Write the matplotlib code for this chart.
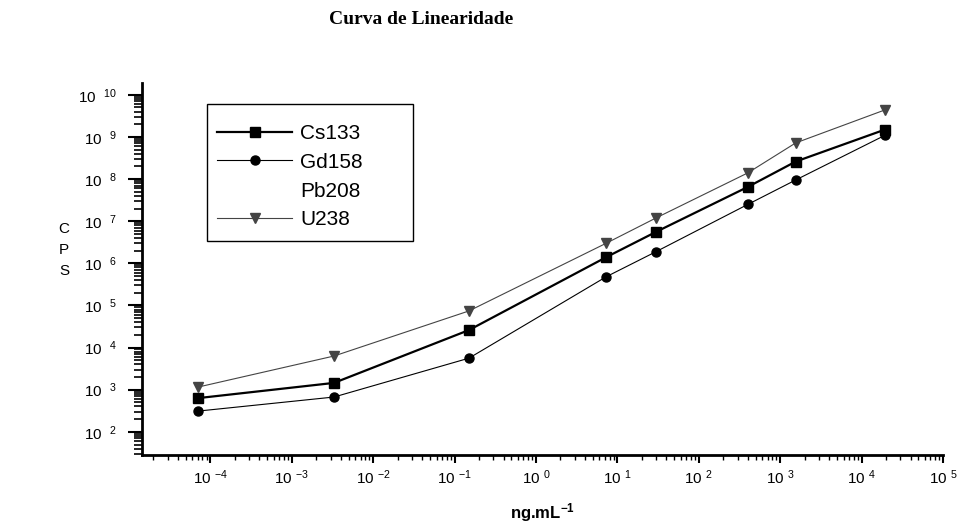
import numpy as np
import matplotlib.pyplot as plt
from matplotlib.patches import Rectangle
from matplotlib.ticker import FixedLocator, LogLocator, NullFormatter

# concentration (ng/mL) and counts per second for each isotope
conc = [7e-5, 3.3e-3, 0.15, 7.3, 30, 400, 1550, 19500]
cs133 = [630, 1450, 26000, 1.4e6, 5.6e6, 6.5e7, 2.6e8, 1.5e9]
gd158 = [310, 670, 5600, 4.8e5, 1.9e6, 2.5e7, 9.5e7, 1.1e9]
pb208 = [450, 700, 30000, 1.6e6, 6.0e6, 7.0e7, 2.8e8, 1.3e9]
u238 = [1150, 6300, 74000, 3.0e6, 1.2e7, 1.4e8, 7.2e8, 4.4e9]

x_exps = list(range(-4, 6))
y_exps = list(range(2, 11))

plt.rcParams['font.family'] = ['Liberation Sans', 'DejaVu Sans']
plt.rcParams['mathtext.default'] = 'regular'

W, H = 957, 523
AX_L, AX_R, AX_T, AX_B = 142, 943, 83, 455


def main() -> None:
	fig = plt.figure(figsize=(W / 100, H / 100), dpi=100)
	ax = fig.add_axes([AX_L / W, (H - AX_B) / H, (AX_R - AX_L) / W, (AX_B - AX_T) / H])

	# Pb208 is printed white in the original, so it only shows in the legend text
	ax.plot(conc, pb208, color='white', lw=1.0, marker='^', ms=6,
		label='Pb208', zorder=1)
	ax.plot(conc, cs133, color='black', lw=1.6, marker='s', ms=6.5, label='Cs133', zorder=3)
	ax.plot(conc, gd158, color='black', lw=0.8, marker='o', ms=6.5, label='Gd158', zorder=3)
	ax.plot(conc, u238, color='#444444', lw=0.8, marker='v', ms=7.5, label='U238', zorder=3)

	ax.set_xscale('log')
	ax.set_yscale('log')
	ax.set_xlim(10 ** -4.84, 1e5)
	ax.set_ylim(10 ** 1.45, 10 ** 10.28)

	ax.xaxis.set_major_locator(FixedLocator([10.0 ** e for e in x_exps]))
	ax.set_xticklabels([f"10 $^{{{e}}}$" for e in x_exps])
	ax.xaxis.set_minor_locator(LogLocator(base=10, subs=np.arange(2, 10), numticks=20))
	ax.xaxis.set_minor_formatter(NullFormatter())

	ax.yaxis.set_major_locator(FixedLocator([10.0 ** e for e in y_exps]))
	ax.set_yticklabels([f"10  $^{{{e}}}$" for e in y_exps])
	ax.yaxis.set_minor_locator(LogLocator(base=10, subs=np.arange(2, 10), numticks=20))
	ax.yaxis.set_minor_formatter(NullFormatter())

	ax.spines['top'].set_visible(False)
	ax.spines['right'].set_visible(False)
	ax.spines['left'].set_linewidth(2.0)
	ax.spines['bottom'].set_linewidth(2.0)

	ax.tick_params(axis='y', which='major', direction='out', length=10, width=1.5,
		labelsize=11, pad=8)
	ax.tick_params(axis='y', which='minor', direction='out', length=6, width=1.2)
	ax.tick_params(axis='x', which='major', direction='out', length=6, width=1.5,
		labelsize=11, pad=4)
	ax.tick_params(axis='x', which='minor', direction='out', length=3.5, width=1.0)

	handles, labels = ax.get_legend_handles_labels()
	order = [labels.index(n) for n in ['Cs133', 'Gd158', 'Pb208', 'U238']]
	ax.legend([handles[i] for i in order], [labels[i] for i in order],
		loc='upper left',
		bbox_to_anchor=((217 - AX_L) / (AX_R - AX_L), 1 - (124 - AX_T) / (AX_B - AX_T)),
		fontsize=15, frameon=False, handlelength=3.6,
		labelspacing=0.47, borderpad=0.0, borderaxespad=0.0, handletextpad=0.4)
	# frame drawn by hand: the original box leaves a wide margin right of the names
	ax.add_patch(Rectangle((207 / W, 1 - 241 / H), 206 / W, 137 / H,
		transform=fig.transFigure, fill=False, edgecolor='black', lw=1.0, zorder=5))

	ax.set_xlabel("ng.mL$^{-1}$", fontsize=12, fontweight='bold', labelpad=10)
	fig.text(64 / W, 1 - 250 / H, "C\nP\nS", ha='center', va='center',
		fontsize=11, linespacing=1.6)
	fig.text(421 / W, 1 - 20 / H, "Curva de Linearidade", ha='center', va='center',
		fontsize=14, fontweight='bold', family='Liberation Serif')

	fig.savefig('out.png', dpi=100)


if __name__ == "__main__":
	main()
